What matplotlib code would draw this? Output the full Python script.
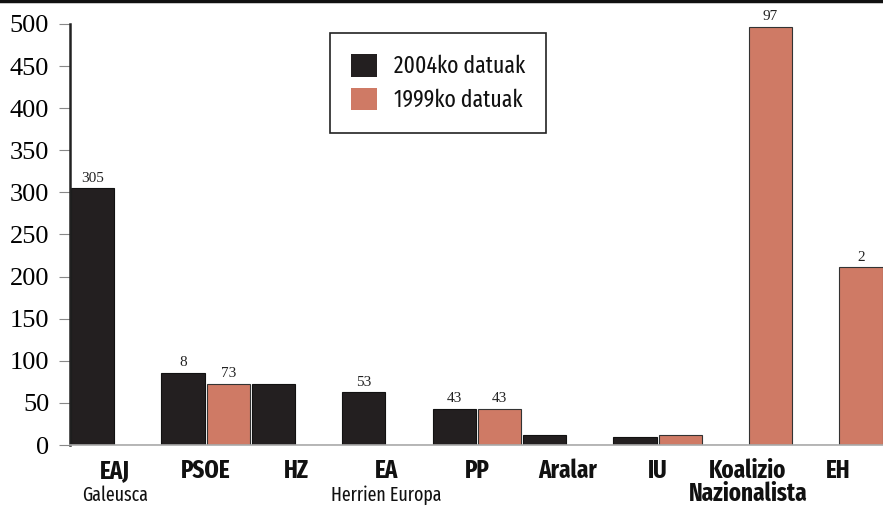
import matplotlib
matplotlib.use("Agg")
import matplotlib.pyplot as plt
from matplotlib.lines import Line2D
from matplotlib.patches import Patch
import matplotlib.transforms as mtransforms

# --- data ---
parties = ["EAJ", "PSOE", "HZ", "EA", "PP", "Aralar", "IU", "Koalizio\nNazionalista", "EH"]
subtitles = ["Galeusca", "", "", "Herrien Europa", "", "", "", "", ""]
votes_2004 = [305, 86, 73, 63, 43, 12, 9, 0, 0]
votes_1999 = [0, 73, 0, 0, 43, 0, 12, 497, 211]
labels_2004 = ["305", "8", "", "53", "43", "", "", "", ""]
labels_1999 = ["", "73", "", "", "43", "", "", "97", "2"]

series_names = ["2004ko datuak", "1999ko datuak"]
c2004 = "#231f20"
c1999 = "#cf7a65"

narrow = ["Fira Sans Extra Condensed", "Roboto Condensed", "DejaVu Sans"]
serif = ["Liberation Serif", "DejaVu Serif"]

fig = plt.figure(figsize=(8.83, 5.11), dpi=100)
ax = fig.add_axes([70 / 883, 1 - 445 / 511, 1 - 70 / 883, (445 - 24) / 511])

x04 = [2 * i for i in range(len(parties))]
x99 = [2 * i + 1 for i in range(len(parties))]
b04 = ax.bar(x04, votes_2004, width=0.96, color=c2004, edgecolor="#111111", linewidth=0.8)
b99 = ax.bar(x99, votes_1999, width=0.96, color=c1999, edgecolor="#333333", linewidth=0.8)

for bars, labs in ((b04, labels_2004), (b99, labels_1999)):
    for rect, lab in zip(bars, labs):
        if lab:
            ax.text(rect.get_x() + rect.get_width() / 2, rect.get_height() + 4, lab,
                    ha="center", va="bottom", fontsize=11, family=serif,
                    color="#222222", clip_on=False)

ax.set_xlim(-0.5, (883 - 70) / 45.2 - 0.5)
ax.set_ylim(0, 500)

for s in ["top", "right"]:
    ax.spines[s].set_visible(False)
ax.spines["left"].set_bounds(0, 500)
ax.spines["left"].set_color("#222222")
ax.spines["left"].set_linewidth(1.8)
ax.spines["bottom"].set_color("#aaaaaa")
ax.spines["bottom"].set_linewidth(1.2)

ax.set_yticks(range(0, 501, 50))
ax.set_yticklabels([str(v) for v in range(0, 501, 50)], family=serif, fontsize=19)
ax.tick_params(axis="y", direction="out", length=8, width=0.8, color="#888888", pad=7)

centers = [2 * i + 0.5 for i in range(len(parties))]
ax.set_xticks(centers)
ax.set_xticklabels(parties, family=narrow, fontweight="bold", fontsize=18,
                   linespacing=0.9, color="#111111")
ax.tick_params(axis="x", length=0, pad=10)

trans = mtransforms.blended_transform_factory(ax.transData, fig.transFigure)
for cx, sub in zip(centers, subtitles):
    if sub:
        ax.text(cx, 1 - 495 / 511, sub, transform=trans, ha="center", va="center",
                family=narrow, fontsize=14, color="#111111")

handles = [Patch(facecolor=c2004, edgecolor="none"), Patch(facecolor=c1999, edgecolor="none")]
leg = ax.legend(handles, series_names, loc="upper left", bbox_to_anchor=(0.32, 0.979),
                prop={"family": narrow, "size": 17}, frameon=True, fancybox=False,
                edgecolor="#222222", framealpha=1, handlelength=1.1, handleheight=1.1,
                borderpad=0.9, labelspacing=0.4, handletextpad=0.7, borderaxespad=0)
leg.get_frame().set_linewidth(1.2)
for t in leg.get_texts():
    t.set_color("#111111")

# top rule of the page
fig.add_artist(Line2D([0, 1], [0.998, 0.998], transform=fig.transFigure,
                      color="#111111", linewidth=2.5))

fig.savefig("out.png", dpi=100)
